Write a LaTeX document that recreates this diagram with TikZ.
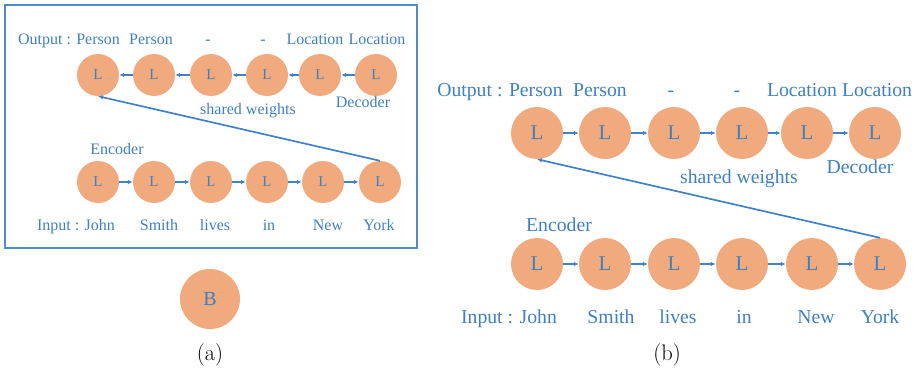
\documentclass[tikz,border=0pt]{standalone}
\usepackage{fontspec}
\newfontfamily\tfont{Liberation Serif}
\usetikzlibrary{arrows.meta}
\definecolor{nodeor}{RGB}{241,170,125}
\definecolor{txtblue}{RGB}{62,128,192}
\definecolor{arrblue}{RGB}{66,130,196}
\definecolor{boxblue}{RGB}{80,140,200}
\begin{document}
\begin{tikzpicture}[x=1pt,y=-1pt,
  cella/.style={circle, fill=nodeor, minimum size=42pt, inner sep=0pt, text=txtblue, font=\tfont\fontsize{15}{15}\selectfont},
  cellb/.style={circle, fill=nodeor, minimum size=52pt, inner sep=0pt, text=txtblue, font=\tfont\fontsize{21}{21}\selectfont},
  lbla/.style={text=txtblue, inner sep=0pt, anchor=base, font=\tfont\fontsize{16}{16}\selectfont},
  lblb/.style={text=txtblue, inner sep=0pt, anchor=base, font=\tfont\fontsize{19.7}{19.7}\selectfont},
  arr/.style={-{Latex[length=5pt,width=4.5pt]}, draw=arrblue, line width=1.7pt},
  capt/.style={inner sep=0pt, font=\fontsize{22.5}{22.5}\selectfont}]
\useasboundingbox (0,0) rectangle (920,374);
% ---------- panel (a)
\draw[boxblue, line width=1.3pt] (5,5) rectangle (417,248);
\foreach \i/\x in {1/98,2/154,3/211,4/267,5/320,6/376}
  \node[cella] (at\i) at (\x,75) {L};
\foreach \i/\x in {1/98,2/154,3/211,4/267,5/323,6/380}
  \node[cella] (ab\i) at (\x,182) {L};
\foreach \a/\b in {2/1,3/2,4/3,5/4,6/5}
  \draw[arr] (at\a) -- (at\b);
\foreach \a/\b in {1/2,2/3,3/4,4/5,5/6}
  \draw[arr] (ab\a) -- (ab\b);
\draw[arr] (ab6.north) -- (at1.south);
\node[lbla] (aout) at (69,45) {Output : Person};
\node[lbla] (ao2) at (151,45) {Person};
\node[lbla] (ao3) at (208,45) {-};
\node[lbla] (ao4) at (263,45) {-};
\node[lbla] (ao5) at (315,45) {Location};
\node[lbla] (ao6) at (377,45) {Location};
\node[lbla] (adec) at (363,108) {Decoder};
\node[lbla] (ashw) at (248,115) {shared weights};
\node[lbla] (aenc) at (117,155) {Encoder};
\node[lbla] (ain) at (76,230) {Input : John};
\node[lbla] (ai2) at (159,230) {Smith};
\node[lbla] (ai3) at (215,230) {lives};
\node[lbla] (ai4) at (269,230) {in};
\node[lbla] (ai5) at (328,230) {New};
\node[lbla] (ai6) at (379,230) {York};
\node[circle, fill=nodeor, minimum size=60pt, inner sep=0pt, text=txtblue, font=\tfont\fontsize{20}{20}\selectfont] (B) at (210,299) {B};
\node[capt] (capa) at (210,355) {(a)};
% ---------- panel (b)
\foreach \i/\x in {1/537,2/605,3/674,4/742,5/807,6/875}
  \node[cellb] (bt\i) at (\x,133) {L};
\foreach \i/\x in {1/537,2/605,3/674,4/742,5/812,6/880}
  \node[cellb] (bb\i) at (\x,264) {L};
\foreach \a/\b in {1/2,2/3,3/4,4/5,5/6}
  \draw[arr] (bt\a) -- (bt\b);
\foreach \a/\b in {1/2,2/3,3/4,4/5,5/6}
  \draw[arr] (bb\a) -- (bb\b);
\draw[arr] (bb6.north) -- (bt1.south);
\node[lblb] (bout) at (500,97) {Output : Person};
\node[lblb] (bo2) at (600,97) {Person};
\node[lblb] (bo3) at (671,97) {-};
\node[lblb] (bo4) at (737,97) {-};
\node[lblb] (bo5) at (802,97) {Location};
\node[lblb] (bo6) at (877,97) {Location};
\node[lblb] (bdec) at (860,174) {Decoder};
\node[lblb] (bshw) at (739,183) {shared weights};
\node[lblb] (benc) at (559,231) {Encoder};
\node[lblb] (bin) at (509,323) {Input : John};
\node[lblb] (bi2) at (611,323) {Smith};
\node[lblb] (bi3) at (678,323) {lives};
\node[lblb] (bi4) at (744,323) {in};
\node[lblb] (bi5) at (816,323) {New};
\node[lblb] (bi6) at (880,323) {York};
\node[capt] (capb) at (667,355) {(b)};
\end{tikzpicture}
\end{document}
